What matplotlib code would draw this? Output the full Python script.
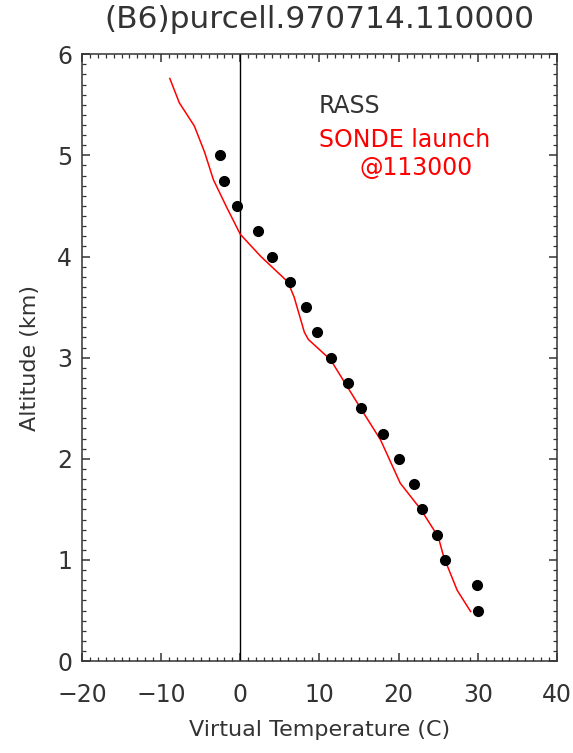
import matplotlib
matplotlib.use("Agg")
import matplotlib.pyplot as plt
from matplotlib.ticker import MultipleLocator

# RASS virtual temperature (C) vs altitude (km)
rass_alt = [5.0, 4.75, 4.5, 4.25, 4.0, 3.75, 3.5, 3.25, 3.0, 2.75, 2.5,
            2.25, 2.0, 1.75, 1.5, 1.25, 1.0, 0.75, 0.5]
rass_tv = [-2.6, -2.0, -0.4, 2.3, 4.0, 6.3, 8.3, 9.7, 11.4, 13.6, 15.3,
           18.0, 20.0, 21.9, 23.0, 24.9, 25.9, 29.9, 30.0]

# sonde profile
sonde_alt = [5.76, 5.52, 5.29, 5.03, 4.76, 4.50, 4.22, 4.0, 3.75, 3.6,
             3.25, 3.18, 2.98, 2.5, 2.19, 1.76, 1.50, 1.23, 1.03, 0.70, 0.49]
sonde_tv = [-8.9, -7.7, -5.8, -4.5, -3.4, -1.8, 0.0, 2.6, 6.0, 6.8,
            8.1, 8.6, 11.4, 15.2, 17.7, 20.2, 22.8, 25.0, 25.7, 27.4, 29.1]

fg = '#333333'
fig = plt.figure(figsize=(5.73, 7.53), dpi=100)
ax = fig.add_axes([0.143, 0.122, 0.829, 0.806])

ax.axvline(0, color='black', lw=1.0)
ax.plot(sonde_tv, sonde_alt, color='red', lw=1.1)
ax.plot(rass_tv, rass_alt, 'o', color='black', ms=7)

ax.set_xlim(-20, 40)
ax.set_ylim(0, 6)
ax.xaxis.set_major_locator(MultipleLocator(10))
ax.xaxis.set_minor_locator(MultipleLocator(1))
ax.yaxis.set_major_locator(MultipleLocator(1))
ax.yaxis.set_minor_locator(MultipleLocator(0.1))
ax.tick_params(which='both', direction='in', top=True, right=True,
               labelsize=17, colors=fg)
ax.tick_params(which='major', length=6, width=1.1)
ax.tick_params(which='minor', length=3, width=0.9)
ax.tick_params(axis='x', which='major', pad=16)
ax.tick_params(axis='y', which='major', pad=7)
for s in ax.spines.values():
    s.set_linewidth(1.1)
    s.set_color(fg)

ax.set_xlabel('Virtual Temperature (C)', fontsize=16, color=fg, labelpad=9)
ax.set_ylabel('Altitude (km)', fontsize=16, color=fg, labelpad=12)
ax.set_title('(B6)purcell.970714.110000', fontsize=22.5, color=fg, pad=19)

ax.text(9.9, 5.42, 'RASS', fontsize=17, color=fg, va='baseline')
ax.text(9.9, 5.08, 'SONDE launch', fontsize=17, color='red', va='baseline')
ax.text(15.0, 4.81, '@113000', fontsize=17, color='red', va='baseline')

fig.savefig('out.png', dpi=100)
